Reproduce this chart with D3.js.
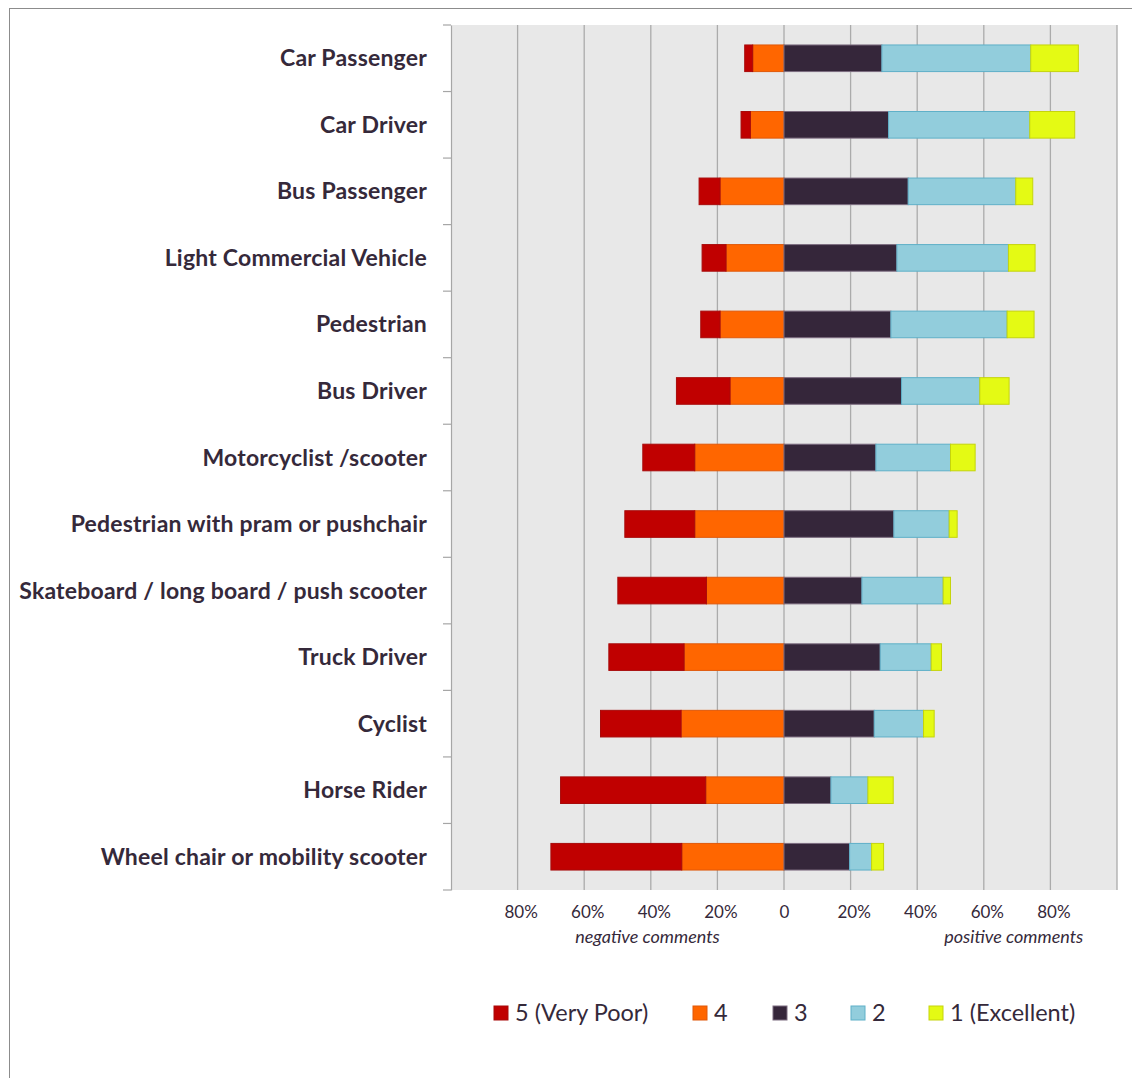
<!DOCTYPE html>
<html>
<head>
<meta charset="utf-8">
<script src="https://cdn.jsdelivr.net/npm/d3@7"></script>
<style>
  html, body { margin: 0; padding: 0; background: #ffffff; }
  svg { display: block; }
  text { font-family: Lato, "Open Sans", sans-serif; fill: #35293a; }
</style>
</head>
<body>
<svg id="chart" width="1132" height="1078"></svg>
<script>
// Road user groups, top to bottom
const categories = [
  "Car Passenger",
  "Car Driver",
  "Bus Passenger",
  "Light Commercial Vehicle",
  "Pedestrian",
  "Bus Driver",
  "Motorcyclist /scooter",
  "Pedestrian with pram or pushchair",
  "Skateboard / long board / push scooter",
  "Truck Driver",
  "Cyclist",
  "Horse Rider",
  "Wheel chair or mobility scooter"
];

// Share of responses (%) for each rating, one value per category
const veryPoor  = [2.4, 2.8, 6.3, 7.2, 5.8, 16.1, 15.6, 21.0, 26.6, 22.6, 24.2, 43.6, 39.3];
const rating4   = [9.4, 10.1, 19.2, 17.4, 19.2, 16.2, 26.8, 26.8, 23.3, 30.0, 30.9, 23.5, 30.7];
const rating3   = [29.4, 31.4, 37.3, 33.9, 32.1, 35.3, 27.6, 33.0, 23.4, 28.9, 27.1, 14.1, 19.7];
const rating2   = [44.7, 42.4, 32.3, 33.5, 34.9, 23.5, 22.4, 16.6, 24.4, 15.3, 14.8, 11.1, 6.6];
const excellent = [14.3, 13.5, 5.1, 8.0, 8.1, 8.8, 7.4, 2.4, 2.2, 3.1, 3.2, 7.6, 3.6];

const seriesNames = ["5 (Very Poor)", "4", "3", "2", "1 (Excellent)"];
const tickValues = [-80, -60, -40, -20, 0, 20, 40, 60, 80];
const tickLabels = ["80%", "60%", "40%", "20%", "0", "20%", "40%", "60%", "80%"];

const fills   = ["#c00000", "#ff6600", "#35263a", "#92cddc", "#e4fa14"];
const strokes = ["#a80a0a", "#e0590a", "#7d6d80", "#5fb0c8", "#c5d40c"];

// Build stacked segments: ratings 5 and 4 extend left of zero, 3/2/1 extend right
const seriesValues = [veryPoor, rating4, rating3, rating2, excellent];
const segments = [];
categories.forEach((cat, i) => {
  // negative side: rating 4 adjacent to zero, then rating 5 outside it
  const r4 = rating4[i], r5 = veryPoor[i];
  segments.push({ cat, s: 1, x0: -r4, x1: 0 });
  segments.push({ cat, s: 0, x0: -r4 - r5, x1: -r4 });
  // positive side: 3, then 2, then 1
  let acc = 0;
  [2, 3, 4].forEach(s => {
    const v = seriesValues[s][i];
    segments.push({ cat, s, x0: acc, x1: acc + v });
    acc += v;
  });
});

const svg = d3.select("#chart");

// outer chart frame
svg.append("rect")
  .attr("x", 9.5).attr("y", 8.5)
  .attr("width", 1200).attr("height", 1200)
  .attr("fill", "none").attr("stroke", "#8c8c8c").attr("stroke-width", 1);

const plot = { left: 451, right: 1117, top: 25, bottom: 890 };

const x = d3.scaleLinear().domain([-100, 100]).range([plot.left, plot.right]);
const y = d3.scaleBand().domain(categories).range([plot.top, plot.bottom]).paddingInner(0.6).paddingOuter(0.3);
const yBand = d3.scaleBand().domain(categories).range([plot.top, plot.bottom]);

// plot background
svg.append("rect")
  .attr("x", plot.left).attr("y", plot.top)
  .attr("width", plot.right - plot.left).attr("height", plot.bottom - plot.top)
  .attr("fill", "#e8e8e8");

// vertical gridlines
svg.append("g")
  .selectAll("line")
  .data(d3.range(-80, 101, 20))
  .join("line")
  .attr("x1", d => x(d)).attr("x2", d => x(d))
  .attr("y1", plot.top).attr("y2", plot.bottom)
  .attr("stroke", "#ababab").attr("stroke-width", 1.3);

// bars
svg.append("g")
  .selectAll("rect")
  .data(segments)
  .join("rect")
  .attr("x", d => x(d.x0))
  .attr("y", d => y(d.cat))
  .attr("width", d => x(d.x1) - x(d.x0))
  .attr("height", y.bandwidth())
  .attr("fill", d => fills[d.s])
  .attr("stroke", d => strokes[d.s])
  .attr("stroke-width", 1);

// category axis on the left
const yAxis = d3.axisLeft(yBand).tickSize(0).tickPadding(24);
const yg = svg.append("g").attr("transform", `translate(${plot.left},0)`).call(yAxis);
yg.select(".domain").attr("stroke", "#a6a6a6").attr("stroke-width", 1.2);
yg.selectAll("text")
  .attr("font-size", 23)
  .attr("font-weight", 700)
  .attr("letter-spacing", 0.2)
  .attr("fill", "#35293a")
  .attr("dy", "0.35em");
// boundary ticks between categories
yg.append("g")
  .selectAll("line")
  .data(d3.range(categories.length + 1))
  .join("line")
  .attr("x1", -8).attr("x2", 0)
  .attr("y1", i => plot.top + i * yBand.step())
  .attr("y2", i => plot.top + i * yBand.step())
  .attr("stroke", "#a6a6a6").attr("stroke-width", 1.2);

// percentage axis labels
const xAxis = d3.axisBottom(x)
  .tickValues(tickValues)
  .tickSize(0)
  .tickPadding(16)
  .tickFormat((d, i) => tickLabels[i]);
const xg = svg.append("g").attr("transform", `translate(0,${plot.bottom})`).call(xAxis);
xg.select(".domain").remove();
xg.selectAll("text")
  .attr("font-size", 17)
  .attr("fill", "#35293a")
  .attr("dx", d => d === 0 ? 0 : 3);

// side captions
svg.append("text")
  .attr("x", x(-41)).attr("y", 943)
  .attr("text-anchor", "middle")
  .attr("font-size", 18).attr("font-style", "italic")
  .text("negative comments");
svg.append("text")
  .attr("x", x(69)).attr("y", 943)
  .attr("text-anchor", "middle")
  .attr("font-size", 18).attr("font-style", "italic")
  .text("positive comments");

// legend
const legendX = [494, 693, 773, 851, 929];
const legend = svg.append("g")
  .selectAll("g")
  .data(seriesNames)
  .join("g")
  .attr("transform", (d, i) => `translate(${legendX[i]},1006)`);
legend.append("rect")
  .attr("width", 14).attr("height", 14)
  .attr("fill", (d, i) => fills[i])
  .attr("stroke", (d, i) => strokes[i]).attr("stroke-width", 1);
legend.append("text")
  .attr("x", 21).attr("y", 15)
  .attr("font-size", 23.5)
  .attr("fill", "#3a2f3f")
  .text(d => d);
</script>
</body>
</html>
